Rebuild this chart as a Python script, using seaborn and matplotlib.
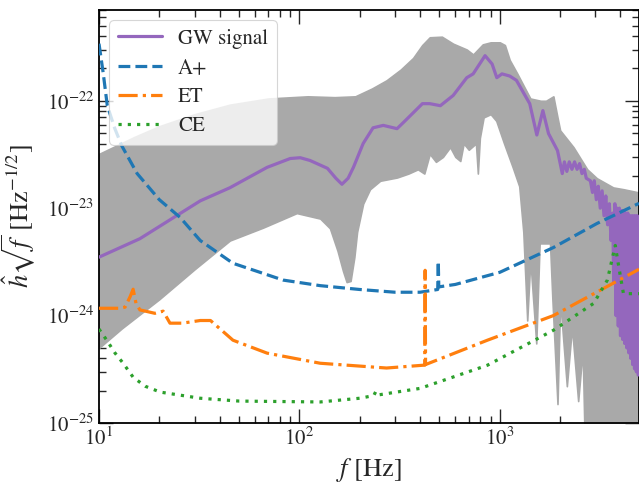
import numpy as np
import matplotlib
matplotlib.use("Agg")
import matplotlib.pyplot as plt
from matplotlib.ticker import NullFormatter, LogLocator, FixedLocator
import seaborn as sns

# ---------------- data ----------------
# gray posterior band: upper / lower envelopes
band_up_f = [10, 15, 20, 30, 45, 70, 110, 150, 190, 230, 272, 320, 369, 410, 447,
             514, 585, 684, 736, 822, 900, 1000, 1060, 1120, 1220, 1420, 1600, 1700,
             1850, 1940, 2000, 2330, 2730, 3050, 3680, 4150, 4950]
band_up_h = [3.2e-23, 4.6e-23, 5.8e-23, 7.5e-23, 9.2e-23, 1.05e-22, 1.1e-22, 1.08e-22,
             1.1e-22, 1.3e-22, 1.55e-22, 1.95e-22, 2.5e-22, 3.3e-22, 3.9e-22,
             3.95e-22, 3.4e-22, 3.0e-22, 2.7e-22, 3.35e-22, 3.5e-22, 3.5e-22, 3.3e-22,
             2.4e-22, 1.8e-22, 1.05e-22, 1.0e-22, 1.0e-22, 1.1e-22, 7.0e-23, 5.3e-23,
             3.7e-23, 2.3e-23, 1.9e-23, 1.56e-23, 1.5e-23, 1.4e-23]
band_lo_f = [10, 13, 20, 30, 45, 66, 97, 127, 142, 155, 165, 172, 180, 188, 194, 208,
             225, 253, 307, 350, 390, 420, 447, 480, 520, 565, 600, 635, 660, 700,
             760, 777, 795, 830, 900, 960, 1050, 1160, 1250, 1310, 1370, 1420, 1520,
             1580, 1780, 1830, 1940, 2000, 2160, 2290, 2460, 2590, 2660, 4950]
band_lo_h = [5.0e-25, 7.6e-25, 1.42e-24, 2.7e-24, 5.0e-24, 6.6e-24, 9.0e-24, 8.0e-24,
             6.5e-24, 4.0e-24, 2.6e-24, 2.05e-24, 2.1e-24, 3.5e-24, 6.0e-24, 1.1e-23,
             1.5e-23, 1.8e-23, 1.93e-23, 2.1e-23, 2.3e-23, 2.1e-23, 3.2e-23, 2.7e-23,
             3.0e-23, 3.7e-23, 3.0e-23, 2.75e-23, 4.0e-23, 3.5e-23,
             4.0e-23, 2.1e-23, 4.5e-23, 7.0e-23, 7.5e-23, 6.5e-23, 4.0e-23, 2.4e-23,
             1.6e-23, 6.0e-24, 9.0e-25, 3.3e-24, 5.5e-25,
             4.7e-24, 4.7e-24, 1.4e-24, 1.5e-25, 1.4e-24, 2.2e-25, 7.8e-25, 1.6e-25,
             4.8e-25, 5e-26, 5e-26]

# GW signal
gw_f = [10, 16, 32, 45, 69, 90, 101, 113, 138, 152, 163, 175, 186, 208, 233, 262, 307,
        338, 411, 447, 505, 585, 684, 736, 844, 915, 966, 1025, 1120, 1210, 1410, 1530,
        1640, 1750, 1940, 2050, 2100, 2160, 2220, 2290, 2360, 2430, 2500, 2570, 2640,
        2700, 2830, 2900, 2960, 3030, 3100, 3170, 3240, 3310, 3380, 3450, 3520, 3590,
        3660, 3700, 3750, 3800, 3850, 3900, 3950, 4000, 4050, 4100, 4150, 4200, 4250,
        4300, 4350, 4400, 4450, 4500, 4550, 4600, 4650, 4700, 4750, 4800, 4850, 4900]
gw_h = [3.5e-24, 5.2e-24, 1.17e-23, 1.55e-23, 2.4e-23, 2.9e-23, 2.95e-23, 2.78e-23,
        2.35e-23, 1.9e-23, 1.67e-23, 1.9e-23, 2.4e-23, 4.0e-23, 5.6e-23, 5.9e-23, 5.5e-23,
        6.55e-23, 9.4e-23, 9.4e-23, 9.0e-23, 1.12e-22, 1.64e-22, 1.78e-22, 2.63e-22,
        2.2e-22, 1.64e-22, 1.78e-22, 1.7e-22, 1.55e-22, 9.4e-23, 4.8e-23,
        8.1e-23, 4.95e-23, 3.44e-23, 2.1e-23, 2.7e-23, 2.2e-23, 2.7e-23, 2.3e-23,
        2.7e-23, 2.3e-23, 2.6e-23, 2.1e-23, 2.3e-23,
        1.9e-23, 1.8e-23, 1.4e-23, 1.8e-23, 1.2e-23, 1.6e-23, 1.0e-23, 1.45e-23, 8.5e-24,
        1.3e-23, 7.0e-24, 1.1e-23, 5.0e-24,
        9.0e-24, 2.0e-24, 1.1e-23, 1.0e-24, 1.0e-23, 8.0e-25, 1.0e-23, 6.5e-25,
        9.5e-24, 6.0e-25, 9.5e-24, 5.5e-25, 9.0e-24,
        5.0e-25, 9.0e-24, 4.5e-25, 8.5e-24, 4.0e-25, 8.5e-24, 3.5e-25, 8.5e-24,
        3.2e-25, 8.5e-24, 3.0e-25, 8.5e-24, 2.8e-25]

# A+ sensitivity
ap_f = [10, 10.5, 11, 12, 13, 15.5, 20, 25.4, 32, 46.6, 83, 127, 200, 300, 400, 490,
        493, 496, 600, 1000, 1850, 3050, 4950]
ap_h = [3.4e-22, 1.8e-22, 9.0e-23, 5.5e-23, 3.8e-23, 2.1e-23, 1.2e-23, 8.2e-24,
        5.0e-24, 3.07e-24, 2.14e-24, 1.9e-24, 1.75e-24, 1.65e-24, 1.65e-24, 1.75e-24,
        3.2e-24, 1.85e-24, 1.95e-24, 2.53e-24, 4.3e-24, 7.2e-24, 1.11e-23]

# ET sensitivity
et_f = [10, 12.7, 13.5, 14.3, 14.8, 15.3, 16, 19, 20.9, 22.6, 26, 32, 36, 46.6, 69,
        127, 272, 414, 422, 424, 426, 867, 1850, 4950]
et_h = [1.17e-24, 1.17e-24, 1.2e-24, 1.5e-24, 1.76e-24, 1.3e-24, 1.13e-24, 1.05e-24,
        1.1e-24, 8.5e-25, 8.5e-25, 9.0e-25, 9.0e-25, 5.9e-25, 4.47e-25,
        3.6e-25, 3.25e-25, 3.45e-25, 3.45e-25, 2.64e-24, 3.5e-25, 5.9e-25, 1.0e-24,
        2.7e-24]

# CE sensitivity
ce_f = [10, 11, 12, 13.2, 14.8, 17, 20.2, 32, 50, 127, 200, 235, 240, 245, 400, 867,
        1850, 2940, 3440, 3640, 3770, 3850, 4000, 4140, 4950]
ce_h = [7.5e-25, 5.8e-25, 4.5e-25, 3.6e-25, 2.67e-25, 2.2e-25, 1.94e-25, 1.7e-25,
        1.6e-25, 1.57e-25, 1.7e-25, 1.8e-25, 1.95e-25, 1.82e-25, 2.1e-25, 3.45e-25,
        7.3e-25, 1.3e-24, 2.14e-24, 3.4e-24, 4.5e-24, 3.5e-24, 2.3e-24, 1.6e-24,
        1.6e-24]

labels = ["GW signal", "A+", "ET", "CE"]
x_major = [10, 100, 1000]
y_major = [1e-25, 1e-24, 1e-23, 1e-22]

# ---------------- styling ----------------
sns.set_style("ticks")
plt.rcParams["font.family"] = ["STIXGeneral", "DejaVu Serif"]
plt.rcParams["mathtext.fontset"] = "stix"

fig = plt.figure(figsize=(6.39, 4.83), dpi=100)
ax = fig.add_axes([99 / 639, 1 - 423 / 483, 539.5 / 639, 413 / 483])

# gray band (posterior waveforms)
band_f = np.array(sorted(set(band_up_f) | set(band_lo_f)), dtype=float)
up = 10 ** np.interp(np.log10(band_f), np.log10(band_up_f), np.log10(band_up_h))
lo = 10 ** np.interp(np.log10(band_f), np.log10(band_lo_f), np.log10(band_lo_h))
ax.fill_between(band_f, lo, up, color="darkgray", lw=1.2, edgecolor="darkgray",
                zorder=1)

sns.lineplot(x=gw_f, y=gw_h, ax=ax, color="#9467bd", lw=2.3, label=labels[0],
             estimator=None, sort=False, zorder=3)
sns.lineplot(x=ap_f, y=ap_h, ax=ax, color="#1f77b4", lw=2.3, linestyle=(0, (3.7, 1.6)),
             label=labels[1], estimator=None, sort=False, zorder=4)
sns.lineplot(x=et_f, y=et_h, ax=ax, color="#ff7f0e", lw=2.3,
             linestyle=(0, (6.0, 1.6, 1.0, 1.6)), label=labels[2], estimator=None,
             sort=False, zorder=4)
sns.lineplot(x=ce_f, y=ce_h, ax=ax, color="#2ca02c", lw=2.3, linestyle=(0, (1.0, 1.9)),
             label=labels[3], estimator=None, sort=False, zorder=4)

ax.set_xscale("log")
ax.set_yscale("log")
ax.set_xlim(10, 4920)
ax.set_ylim(1e-25, 7e-22)
ax.xaxis.set_major_locator(FixedLocator(x_major))
ax.yaxis.set_major_locator(FixedLocator(y_major))
ax.xaxis.set_minor_locator(LogLocator(base=10, subs=np.arange(2, 10), numticks=20))
ax.yaxis.set_minor_locator(LogLocator(base=10, subs=np.arange(2, 10), numticks=20))
ax.xaxis.set_minor_formatter(NullFormatter())
ax.yaxis.set_minor_formatter(NullFormatter())

ax.set_xlabel(r"$f\ [\mathrm{Hz}]$", fontsize=19, labelpad=4)
ax.set_ylabel(r"$\hat{h}\sqrt{f}\ [\mathrm{Hz}^{-1/2}]$", fontsize=19, labelpad=6)

ax.tick_params(which="both", direction="in", top=True, right=True, labelsize=15)
ax.tick_params(which="major", length=10, width=1.0)
ax.tick_params(which="minor", length=5, width=1.0)
for s in ax.spines.values():
    s.set_linewidth(1.3)
    s.set_color("black")

leg = ax.legend(loc="upper left", fontsize=15, framealpha=0.8, fancybox=True,
                handlelength=2.1, labelspacing=0.45)
leg.get_frame().set_linewidth(0.8)

fig.savefig("out.png", dpi=100)
